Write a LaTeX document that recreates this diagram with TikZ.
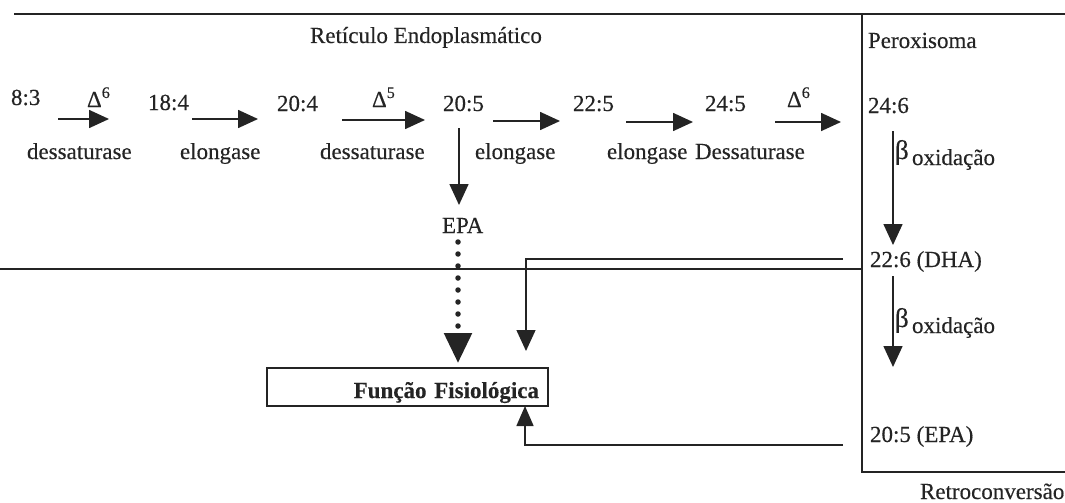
\documentclass[tikz,border=0pt]{standalone}
\usepackage{fontspec}
\setmainfont{Liberation Serif}[FakeBold=0.35]
\usetikzlibrary{arrows.meta}
\definecolor{ink}{gray}{0.14}
\begin{document}
\begin{tikzpicture}[x=1pt,y=-1pt,
  every node/.style={inner sep=0pt,outer sep=0pt,text=ink,font=\fontsize{23}{27}\selectfont},
  lbl/.style={anchor=base west},
  bet/.style={anchor=base west,font=\fontsize{27}{30}\selectfont},
  conn/.style={draw=ink,line width=1.5pt},
  harrow/.style={draw=ink,line width=1.7pt,-{Triangle[length=20pt,width=18pt]}},
  varrow/.style={draw=ink,line width=1.6pt,-{Triangle[length=21pt,width=19pt]}},
  wall/.style={draw=ink,line width=2.6pt},
  boxstyle/.style={draw=ink,line width=1.4pt,minimum width=281pt,minimum height=38pt,
     text width=263pt,inner xsep=9pt,inner ysep=0pt,align=right,text height=24pt,text depth=2pt,
     font=\fontsize{23}{27}\selectfont\bfseries}
]
\useasboundingbox (0,0) rectangle (1065,503);

% compartments
\draw[wall,line width=1.9pt] (14,14) -- (1065,14);
\draw[wall] (862,14) -- (862,472) -- (1065,472);
\draw[conn] (0,269) -- (862,269);

% titles
\node[lbl] (ret) at (310,43) {Retículo Endoplasmático};
\node[lbl] (per) at (868,48) {Peroxisoma};

% chain
\node[lbl] (n183) at (11,105) {8:3};
\node[lbl] (n184) at (148,110) {18:4};
\node[lbl] (n204) at (277,111) {20:4};
\node[lbl] (n205) at (443,111) {20:5};
\node[lbl] (n225) at (573,111) {22:5};
\node[lbl] (n245) at (705,111) {24:5};
\node[lbl] (n246) at (868,113) {24:6};

\node[lbl] (d1) at (87,107) {Δ\textsuperscript{6}};
\node[lbl] (d2) at (372,107) {Δ\textsuperscript{5}};
\node[lbl] (d3) at (787,107) {Δ\textsuperscript{6}};

\node[lbl] (e1) at (27,159) {dessaturase};
\node[lbl] (e2) at (180,159) {elongase};
\node[lbl] (e3) at (320,159) {dessaturase};
\node[lbl] (e4) at (475,159) {elongase};
\node[lbl] (e5) at (607,159) {elongase};
\node[lbl] (e6) at (695,159) {Dessaturase};

\coordinate (a1s) at (58,119);  \coordinate (a1e) at (109,119);
\coordinate (a2s) at (192,119); \coordinate (a2e) at (258,119);
\coordinate (a3s) at (342,120); \coordinate (a3e) at (425,120);
\coordinate (a4s) at (493,121); \coordinate (a4e) at (560,121);
\coordinate (a5s) at (626,122); \coordinate (a5e) at (693,122);
\coordinate (a6s) at (775,122); \coordinate (a6e) at (841,122);
\foreach \i in {1,...,6} \draw[harrow] (a\i s) -- (a\i e);

% EPA branch
\node[lbl] (epa) at (442,233) {EPA};
\coordinate (v1s) at (459,128);
\coordinate (v1e) at (459,205);
\draw[varrow] (v1s) -- (v1e);

% box
\node[boxstyle] (fun) at (407.5,387) {Função Fisiológica};

\coordinate (dots) at (458,242);
\draw[ink,line width=5.5pt,line cap=round,dash pattern=on 0pt off 12pt,
  -{Triangle[length=30pt,width=27pt,line cap=butt]}] (dots) -- (458,363);

% peroxisome
\node[lbl] (dha) at (870,267) {22:6 (DHA)};
\node[lbl] (epa2) at (870,442) {20:5 (EPA)};
\node[bet] (b1) at (895,159) {β};
\node[lbl] (o1) at (912,165) {oxidação};
\node[bet] (b2) at (895,327) {β};
\node[lbl] (o2) at (912,333) {oxidação};
\node[lbl] (retro) at (920,499) {Retroconversão};

\coordinate (p1s) at (893,131); \coordinate (p1e) at (893,245);
\coordinate (p2s) at (893,276); \coordinate (p2e) at (893,367);
\draw[varrow] (p1s) -- (p1e);
\draw[varrow] (p2s) -- (p2e);

% returns to box
\coordinate (r1) at (843,259);
\coordinate (r1e) at (526,351);
\draw[varrow,line width=1.4pt] (r1) -| (r1e);
\coordinate (r2) at (843,445);
\draw[conn,-{Triangle[length=20pt,width=17pt]}] (r2) -| (fun.south -| 525,0);
\end{tikzpicture}
\end{document}
